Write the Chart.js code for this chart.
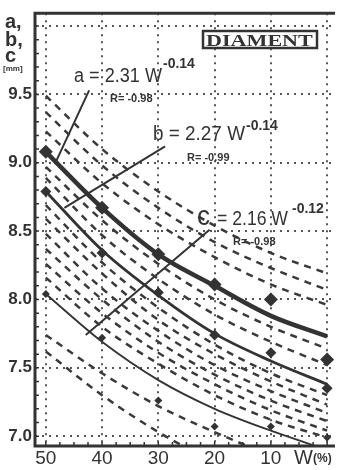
<!DOCTYPE html>
<html lang="en">
<head>
<meta charset="UTF-8">
<title>Diament</title>
<script src="https://cdn.jsdelivr.net/npm/chart.js"></script>
<style>
  html, body { margin: 0; padding: 0; background: #fff; }
  #wrap { width: 341px; height: 470px; }
</style>
</head>
<body>
<div id="wrap"><canvas id="chart"></canvas></div>
<script>
// W (%) positions of the readings
const W = [50, 40, 30, 20, 10, 0];
const xTicks = [50, 40, 30, 20, 10, 0];
const yTicks = [7.0, 7.5, 8.0, 8.5, 9.0, 9.5, 10.0];

// fitted curves a, b, c (mm)
const aFit = [9.08, 8.67, 8.33, 8.10, 7.88, 7.73];
const bFit = [8.79, 8.36, 8.03, 7.75, 7.55, 7.38];
const cFit = [8.04, 7.69, 7.41, 7.20, 7.04, 6.90];

// measured points
const aPts = [9.08, 8.67, 8.33, 8.11, 8.00, 7.56];
const bPts = [8.79, 8.34, 8.05, 7.74, 7.61, 7.35];
const cPts = [8.04, 7.72, 7.26, 7.07, 7.07, 6.99];

// dashed family
const dashed = [
  [9.49, 9.10, 8.79, 8.54, 8.34, 8.19],
  [9.37, 8.98, 8.67, 8.42, 8.23, 8.07],
  [9.23, 8.85, 8.55, 8.31, 8.11, 7.96],
  [8.97, 8.58, 8.26, 8.00, 7.80, 7.64],
  [8.89, 8.47, 8.15, 7.89, 7.69, 7.52],
  [8.69, 8.27, 7.94, 7.67, 7.46, 7.30],
  [8.59, 8.19, 7.85, 7.60, 7.40, 7.23],
  [8.48, 8.08, 7.77, 7.52, 7.33, 7.17],
  [8.37, 8.00, 7.69, 7.45, 7.26, 7.11],
  [8.26, 7.90, 7.61, 7.38, 7.19, 7.04],
  [8.16, 7.80, 7.53, 7.30, 7.12, 6.99],
  [7.74, 7.46, 7.22, 7.03, 6.86, 6.72],
  [7.62, 7.30, 7.03, 6.81, 6.62, 6.47]
];

// leader lines from the equations to the curves [W, mm]
const leadA = [[42.3, 9.53], [48.4, 8.99]];
const leadB = [[28.8, 9.12], [46.7, 8.67]];
const leadC = [[20.9, 8.51], [42.9, 7.74]];

const ink = '#333';

function pts(ys) { return W.map((w, i) => ({x: w, y: ys[i]})); }
function seg(p) { return p.map(q => ({x: q[0], y: q[1]})); }

const datasets = [];
dashed.forEach(d => datasets.push({
  data: pts(d), borderColor: '#3a3a3a', borderWidth: 2.5, borderDash: [7, 6],
  pointRadius: 0, cubicInterpolationMode: 'monotone', fill: false
}));
[[aFit, 4.5], [bFit, 2.8], [cFit, 1.8]].forEach(([d, w]) => datasets.push({
  data: pts(d), borderColor: ink, borderWidth: w,
  pointRadius: 0, cubicInterpolationMode: 'monotone', fill: false
}));
[leadA, leadB, leadC].forEach(l => datasets.push({
  data: seg(l), borderColor: ink, borderWidth: 2, pointRadius: 0, tension: 0
}));
[[aPts, 7], [bPts, 5.5], [cPts, 4]].forEach(([d, r]) => datasets.push({
  data: pts(d), showLine: false, pointStyle: 'rectRot', pointRadius: r,
  pointBackgroundColor: ink, pointBorderColor: ink, pointBorderWidth: 0
}));

function txt(ctx, s, x, y, font, maxW) {
  ctx.font = font;
  if (maxW) ctx.fillText(s, x, y, maxW); else ctx.fillText(s, x, y);
}

const decor = {
  id: 'decor',
  afterDraw(chart) {
    const {ctx, chartArea: a, scales: {x, y}} = chart;
    ctx.save();
    ctx.strokeStyle = ink;
    ctx.fillStyle = ink;
    ctx.lineWidth = 3;
    ctx.beginPath();
    ctx.moveTo(335, a.top);
    ctx.lineTo(a.left, a.top);
    ctx.lineTo(a.left, a.bottom);
    ctx.lineTo(a.right + 1, a.bottom);
    ctx.stroke();

    ctx.lineWidth = 1.5;
    ctx.beginPath();
    for (let k = 70; k <= 100; k++) {
      const py = y.getPixelForValue(k / 10);
      ctx.moveTo(a.left, py); ctx.lineTo(a.left + 4, py);
    }
    for (let k = 0; k <= 20; k++) {
      const px = x.getPixelForValue(k * 2.5);
      ctx.moveTo(px, a.bottom); ctx.lineTo(px, a.bottom - 4);
    }
    ctx.stroke();

    ctx.textBaseline = 'alphabetic';
    ctx.textAlign = 'left';
    // axis titles
    txt(ctx, 'a,', 5, 28, 'bold 20px "Liberation Sans"');
    txt(ctx, 'b,', 5, 46, 'bold 20px "Liberation Sans"');
    txt(ctx, 'c', 5, 62, 'bold 20px "Liberation Sans"');
    txt(ctx, '[mm]', 3, 71, 'bold 8px "Liberation Sans"', 29);
    txt(ctx, 'W', 294, 464, '20px "Liberation Sans"', 19);
    txt(ctx, '(%)', 313, 462, 'bold 12px "Liberation Sans"', 22);

    // equations
    const eq = '500 20px "Liberation Sans"';
    txt(ctx, 'a = 2.31 W', 74, 82, eq, 88);
    txt(ctx, '-0.14', 163, 68, 'bold 14px "Liberation Sans"', 40);
    txt(ctx, 'R= -0.98', 110, 102, 'bold 11px "Liberation Sans"', 47);
    txt(ctx, 'b = 2.27 W', 153, 140, eq, 92);
    txt(ctx, '-0.14', 246, 130, 'bold 14px "Liberation Sans"', 34);
    txt(ctx, 'R= -0.99', 187, 161, 'bold 11px "Liberation Sans"', 49);
    txt(ctx, 'c', 197, 225, '27px "Liberation Sans"', 13);
    txt(ctx, '= 2.16 W', 217, 225, eq, 71);
    txt(ctx, '-0.12', 292, 213, 'bold 14px "Liberation Sans"', 35);
    txt(ctx, 'R= -0.98', 233, 245, 'bold 11px "Liberation Sans"', 49);

    // box
    ctx.lineWidth = 2.5;
    ctx.fillStyle = '#fff';
    ctx.fillRect(203, 31, 114, 17);
    ctx.strokeRect(203, 31, 114, 17);
    ctx.fillStyle = ink;
    ctx.save();
    ctx.translate(206, 46);
    ctx.scale(1.3, 1);
    txt(ctx, 'DIAMENT', 0, 0, 'bold 17px "Liberation Serif"', 83);
    ctx.restore();
    ctx.restore();
  }
};

new Chart(document.getElementById('chart'), {
  type: 'line',
  data: {datasets},
  options: {
    responsive: true,
    maintainAspectRatio: false,
    animation: false,
    layout: {padding: {top: 7, right: 1, left: 0, bottom: 0}},
    plugins: {legend: {display: false}, tooltip: {enabled: false}},
    scales: {
      x: {
        type: 'linear', reverse: true, min: -1.22, max: 51.92,
        afterBuildTicks: s => { s.ticks = xTicks.map(v => ({value: v})); },
        afterFit: s => { s.height = 24; },
        grid: {color: '#555', lineWidth: 2, drawTicks: false},
        border: {display: false, dash: [2, 5]},
        ticks: {
          padding: 1, color: ink, font: {family: 'Liberation Sans', size: 19},
          maxRotation: 0, callback: v => v === 0 ? '' : String(v)
        }
      },
      y: {
        type: 'linear', min: 6.928, max: 10.094,
        afterBuildTicks: s => { s.ticks = yTicks.map(v => ({value: v})); },
        afterFit: s => { s.width = 35; },
        grid: {color: '#555', lineWidth: 2, drawTicks: false},
        border: {display: false, dash: [2, 5]},
        ticks: {
          padding: 3, color: ink, font: {family: 'Liberation Sans', size: 17, weight: 'bold'},
          callback: v => v === 10 ? '' : v.toFixed(1)
        }
      }
    }
  },
  plugins: [decor]
});
</script>
</body>
</html>
